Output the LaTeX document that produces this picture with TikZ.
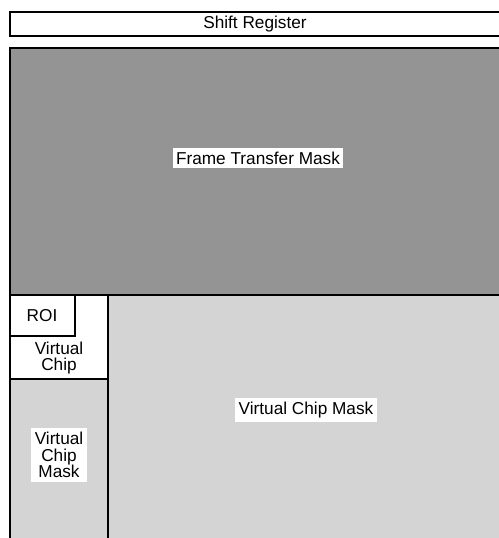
\documentclass[tikz,border=0pt]{standalone}
\usepackage{fontspec}
\setmainfont{Liberation Sans}
\usepackage{xcolor}
\usepackage{tikz}

\definecolor{ftgray}{RGB}{148,148,148}
\definecolor{vcgray}{RGB}{212,212,212}

\tikzset{
  region/.style={draw=black,line width=1.3pt},
  tag/.style={fill=white,inner sep=2pt,align=center,font=\fontsize{9.8}{9.5}\selectfont},
}

\begin{document}
\begin{tikzpicture}[x=0.02cm,y=-0.02cm]
\useasboundingbox (0,0) rectangle (499,538);
\clip (0,0) rectangle (499,538);

% readout row and storage area
\draw[region,fill=white] (10,12) rectangle (520,36);
\draw[region,fill=ftgray] (10,48) rectangle (520,295);

% image area
\draw[region,fill=vcgray] (108,295) rectangle (520,560);
\draw[region,fill=vcgray] (10,379) rectangle (108,560);
\draw[region,fill=white] (10,295) rectangle (108,379);
\draw[region,fill=white] (10,295) rectangle (75,336);

\node[tag,fill=none] (shiftreg) at (255,24) {Shift Register};
\node[tag] (ftmask) at (258,158) {Frame Transfer Mask};
\node[tag] (roi) at (42,315.5) {ROI};
\node[tag] (vchip) at (59,358) {Virtual\\Chip};
\node[tag] (vcmaskleft) at (59,455) {Virtual\\Chip\\Mask};
\node[tag] (vcmask) at (306,410) {Virtual Chip Mask};
\end{tikzpicture}
\end{document}
